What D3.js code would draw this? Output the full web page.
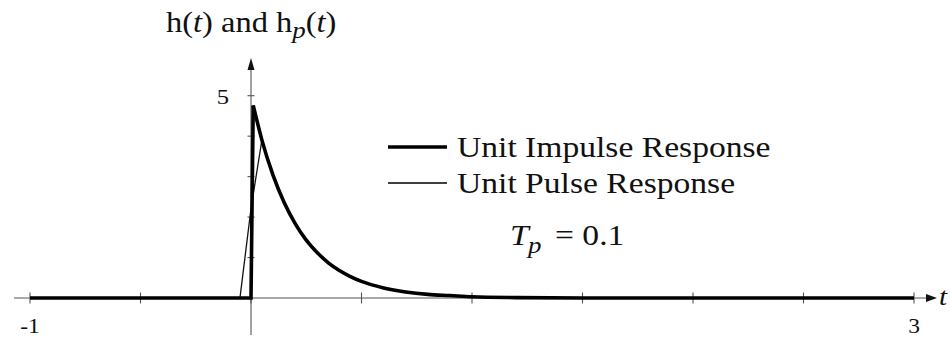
<!DOCTYPE html>
<html>
<head>
<meta charset="utf-8">
<script src="https://cdn.jsdelivr.net/npm/d3@7/dist/d3.min.js"></script>
<style>
  html, body { margin: 0; padding: 0; background: #fff; }
  svg { display: block; }
</style>
</head>
<body>
<svg id="chart" width="950" height="337"></svg>
<script>
// Unit impulse response h(t) of a first-order system
const impulseT = [-1, 0, 0.01, 0.05, 0.1, 0.15, 0.2, 0.25, 0.3, 0.35, 0.4, 0.45, 0.5, 0.6, 0.7, 0.8, 0.9, 1.0, 1.2, 1.5, 2, 3];
const impulseH = [0, 0, 4.76, 3.89, 3.03, 2.36, 1.84, 1.43, 1.12, 0.87, 0.68, 0.53, 0.41, 0.25, 0.15, 0.09, 0.06, 0.03, 0.01, 0, 0, 0];

// Unit pulse response h_p(t), pulse width Tp = 0.1 centred on t = 0
const pulseT = [-1, -0.05, 0, 0.05, 0.1, 0.15, 0.2, 0.25, 0.3, 0.35, 0.4, 0.45, 0.5, 0.6, 0.7, 0.8, 0.9, 1.0, 1.2, 1.5, 2, 3];
const pulseH = [0, 0, 2.21, 3.93, 3.06, 2.38, 1.86, 1.45, 1.13, 0.88, 0.69, 0.53, 0.42, 0.25, 0.15, 0.09, 0.06, 0.03, 0.01, 0, 0, 0];

const xTicks = [-1, -0.5, 0, 0.5, 1, 1.5, 2, 2.5, 3];
const yTicks = [1, 2, 3, 4, 5];
const xTickLabels = [{ v: -1, text: "-1" }, { v: 3, text: "3" }];
const yTickLabels = [{ v: 5, text: "5" }];
const legendItems = [
  { label: "Unit Impulse Response", width: 3.6 },
  { label: "Unit Pulse Response", width: 1.3 }
];

const FONT = "'Liberation Serif', 'Times New Roman', Times, 'DejaVu Serif', serif";
const svg = d3.select("#chart");
const x = d3.scaleLinear().domain([-1, 3]).range([30, 914]);
const y = d3.scaleLinear().domain([0, 5]).range([298, 95.7]);
const stretch = 1.12;   // text is set slightly wide

const axisColor = "#555";
const g = svg.append("g");

// x axis with arrow
g.append("line").attr("x1", 14).attr("x2", 928).attr("y1", y(0)).attr("y2", y(0))
  .attr("stroke", axisColor).attr("stroke-width", 1.1);
g.append("path")
  .attr("d", d3.line()([[926, y(0) - 4], [937, y(0)], [926, y(0) + 4]]) + "Z")
  .attr("fill", "#111");
g.selectAll(".xt").data(xTicks).join("line")
  .attr("x1", d => x(d)).attr("x2", d => x(d))
  .attr("y1", y(0) - 5.5).attr("y2", y(0) + 5.5)
  .attr("stroke", axisColor).attr("stroke-width", 1.1);

// y axis with arrow
g.append("line").attr("x1", x(0)).attr("x2", x(0)).attr("y1", 335).attr("y2", 66)
  .attr("stroke", axisColor).attr("stroke-width", 1.1);
g.append("path")
  .attr("d", d3.line()([[x(0) - 3.5, 70], [x(0), 58], [x(0) + 3.5, 70]]) + "Z")
  .attr("fill", "#111");
g.selectAll(".yt").data(yTicks).join("line")
  .attr("x1", x(0) - 3.5).attr("x2", x(0) + 3.5)
  .attr("y1", d => y(d)).attr("y2", d => y(d))
  .attr("stroke", axisColor).attr("stroke-width", 1.1);

// text helper: serif, slightly widened
function stretchedText(sel, px, py, anchor) {
  return sel.append("text")
    .attr("transform", `translate(${px},${py}) scale(${stretch},1)`)
    .attr("text-anchor", anchor || "start")
    .attr("font-family", FONT)
    .attr("fill", "#111");
}
xTickLabels.forEach(d => {
  stretchedText(g, x(d.v), 333, "middle").attr("font-size", 21).text(d.text);
});
yTickLabels.forEach(d => {
  stretchedText(g, 229, y(d.v) + 8, "end").attr("font-size", 22).text(d.text);
});

// axis label t
stretchedText(g, 939, 305).attr("font-size", 26).attr("font-style", "italic").text("t");

// title h(t) and h_p(t)
const title = stretchedText(g, 166, 32).attr("font-size", 29);
title.append("tspan").text("h(");
title.append("tspan").attr("font-style", "italic").text("t");
title.append("tspan").text(") and h");
title.append("tspan").attr("font-style", "italic").attr("font-size", 24).attr("dy", 6).text("p");
title.append("tspan").attr("dy", -6).text("(");
title.append("tspan").attr("font-style", "italic").text("t");
title.append("tspan").text(")");

// curves
const impulse = impulseT.map((t, i) => [t, impulseH[i]]);
const pulse = pulseT.map((t, i) => [t, pulseH[i]]);
const lin = d3.line().x(d => x(d[0])).y(d => y(d[1]));
const smooth = d3.line().x(d => x(d[0])).y(d => y(d[1])).curve(d3.curveMonotoneX);

const peakIdx = impulseH.indexOf(d3.max(impulseH));
const pulsePeak = pulseH.indexOf(d3.max(pulseH));

g.append("path").attr("d", lin(pulse.slice(0, pulsePeak + 1)))
  .attr("fill", "none").attr("stroke", "#111").attr("stroke-width", 1.3)
  .attr("stroke-linejoin", "miter");
g.append("path").attr("d", smooth(pulse.slice(pulsePeak)))
  .attr("fill", "none").attr("stroke", "#111").attr("stroke-width", 1.3);

g.append("path").attr("d", lin(impulse.slice(0, peakIdx + 1)))
  .attr("fill", "none").attr("stroke", "#000").attr("stroke-width", 3.6)
  .attr("stroke-linejoin", "miter").attr("stroke-miterlimit", 20);
g.append("path").attr("d", smooth(impulse.slice(peakIdx)))
  .attr("fill", "none").attr("stroke", "#000").attr("stroke-width", 3.6)
  .attr("stroke-linecap", "butt");

// legend
legendItems.forEach((d, i) => {
  const ly = 147 + i * 36;
  g.append("line").attr("x1", 388).attr("x2", 447).attr("y1", ly).attr("y2", ly)
    .attr("stroke", "#000").attr("stroke-width", d.width);
  stretchedText(g, 457, ly + 10).attr("font-size", 30).text(d.label);
});

// pulse width note: T with subscript p, then "= 0.1"
stretchedText(g, 510, 245).attr("font-size", 30).attr("font-style", "italic").text("T");
stretchedText(g, 528, 253).attr("font-size", 24).attr("font-style", "italic").text("p");
stretchedText(g, 555, 245).attr("font-size", 30).text("= 0.1");
</script>
</body>
</html>
